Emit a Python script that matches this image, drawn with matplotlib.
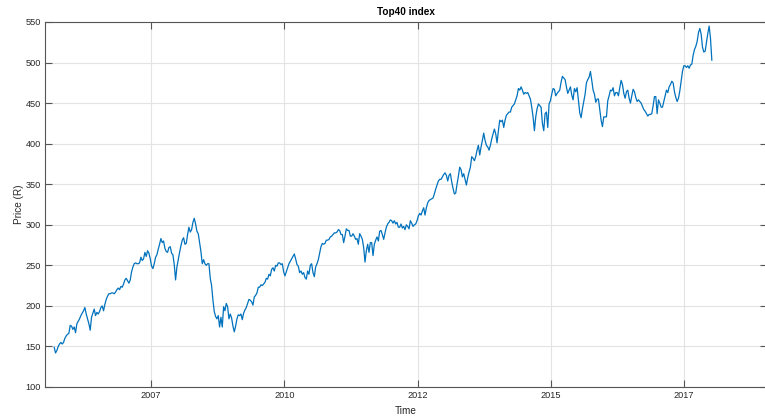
import datetime as dt
import numpy as np
import pandas as pd
import matplotlib
matplotlib.use("Agg")
import matplotlib.pyplot as plt
import matplotlib.dates as mdates

# ---- data (Top40 index price) ----
start_date = "2005-10-14"
end_date = "2018-02-13"

prices_2005_2007 = [149, 142, 145, 150, 153, 155, 153, 155, 160, 163, 165, 166, 176, 175, 171, 174, 167, 178, 181, 184,
                    188, 191, 194, 198, 190, 184, 178, 170, 186, 191, 196, 188, 192, 190, 193, 198, 200, 194, 202, 208,
                    212, 215, 215, 216, 216, 215, 217, 220, 222, 220, 224, 223, 227, 232, 234, 231, 228, 232, 242, 248,
                    252, 253]
prices_2007_2008 = [252, 252, 253, 260, 256, 258, 266, 261, 268, 265, 258, 249, 246, 252, 260, 263, 270, 276, 283, 278,
                    280, 271, 267, 266, 272, 273, 265, 263, 251, 232, 248, 257, 266, 274, 281, 284, 276, 277, 288, 297,
                    291, 294, 303, 308, 301, 292, 289, 278, 267, 252, 257, 252, 250, 252, 252, 234, 225, 207, 193, 187,
                    184, 188]
prices_2008_2010 = [174, 186, 174, 199, 194, 203, 199, 184, 190, 185, 175, 168, 175, 184, 189, 188, 190, 183, 191, 195,
                    198, 203, 208, 207, 205, 201, 211, 213, 216, 223, 223, 226, 225, 227, 229, 234, 233, 239, 237, 245,
                    247, 243, 250, 249, 253, 253, 251, 252, 242, 237, 242, 247, 252, 255, 258, 261, 264, 258, 251, 249]
prices_2010_2011 = [241, 243, 239, 241, 235, 233, 243, 239, 250, 252, 241, 236, 248, 252, 257, 265, 273, 277, 276, 277,
                    281, 281, 282, 285, 286, 288, 290, 290, 291, 294, 293, 288, 288, 278, 286, 295, 293, 293, 286, 286,
                    289, 286, 282, 283, 276, 289, 286, 282, 272, 254, 268, 276, 266, 278, 278, 262, 276, 281, 285, 280,
                    292, 293, 288, 282]
prices_2011_2013 = [290, 297, 301, 303, 306, 305, 302, 305, 301, 303, 297, 297, 301, 296, 298, 294, 300, 298, 295, 305,
                    302, 298, 300, 301, 305, 311, 314, 312, 317, 321, 312, 321, 327, 330, 331, 332, 333, 338, 344, 349,
                    354, 356, 356, 359, 362, 364, 361, 354, 361, 363, 353, 345, 338, 339, 350, 360, 371, 368, 359, 363,
                    356, 349, 358]
prices_2013_2015 = [365, 371, 384, 382, 379, 384, 392, 398, 386, 396, 404, 413, 404, 398, 396, 392, 398, 406, 412, 418,
                    412, 401, 416, 429, 427, 429, 420, 429, 435, 437, 439, 439, 445, 447, 449, 454, 459, 468, 466, 470,
                    466, 461, 463, 462, 463, 459, 455, 445, 433, 416, 433, 443, 449, 447, 445, 425, 416, 437, 439, 420,
                    449, 453, 461, 468]
prices_2015_2016 = [467, 459, 462, 464, 466, 476, 483, 481, 479, 470, 462, 466, 470, 460, 454, 468, 464, 469, 454, 438,
                    432, 443, 452, 461, 475, 479, 482, 489, 478, 466, 461, 451, 455, 455, 442, 429, 421, 433, 433, 433,
                    453, 459, 466, 465, 469, 459, 463, 463, 459, 469, 478, 473, 462, 456, 464, 466, 456, 450, 459, 467,
                    464, 457, 452, 454, 452, 450, 446, 442]
prices_2016_2018 = [440, 437, 434, 436, 436, 437, 447, 458, 458, 437, 454, 450, 445, 445, 452, 459, 466, 463, 470, 473,
                    477, 475, 464, 457, 452, 456, 465, 477, 489, 496, 496, 494, 496, 493, 497, 498, 509, 516, 520, 526,
                    537, 542, 535, 519, 513, 514, 525, 536, 545, 530, 503]

tick_dates = ["2007-08-08", "2010-02-06", "2012-08-07", "2015-02-06", "2017-08-08"]
y_ticks = [100, 150, 200, 250, 300, 350, 400, 450, 500, 550]

prices = (prices_2005_2007 + prices_2007_2008 + prices_2008_2010 + prices_2010_2011 +
          prices_2011_2013 + prices_2013_2015 + prices_2015_2016 + prices_2016_2018)
dates = pd.date_range(start_date, end_date, periods=len(prices))

# ---- figure ----
plt.rcParams['font.family'] = ['Liberation Sans', 'DejaVu Sans']
fig = plt.figure(figsize=(7.65, 4.19), dpi=100)
ax = fig.add_axes([45 / 765, 1 - 387 / 419, (767 - 45) / 765, (387 - 22) / 419])

ax.plot(dates, prices, color='#0072BD', linewidth=0.9)

ax.set_xlim(pd.Timestamp("2005-08-12"), pd.Timestamp("2019-02-26"))
ax.set_ylim(100, 550)
ax.set_yticks(y_ticks)
ax.set_xticks([pd.Timestamp(d) for d in tick_dates])
ax.xaxis.set_major_formatter(mdates.DateFormatter('%Y'))

ax.grid(True, color='#e3e3e3', linewidth=0.8)
ax.set_axisbelow(True)

axis_col = '#262626'
for s in ax.spines.values():
    s.set_color('#555555')
    s.set_linewidth(0.8)
ax.tick_params(direction='in', length=5, width=0.8, color='#555555',
               labelsize=6.6, labelcolor=axis_col, top=True, right=True, pad=3)

ax.set_title('Top40 index', fontsize=7.2, fontweight='bold', color='black', pad=5)
ax.set_xlabel('Time', fontsize=7.2, color=axis_col, labelpad=4)
ax.set_ylabel('Price (R)', fontsize=7.2, color=axis_col, labelpad=1)

fig.savefig('out.png', dpi=100)
